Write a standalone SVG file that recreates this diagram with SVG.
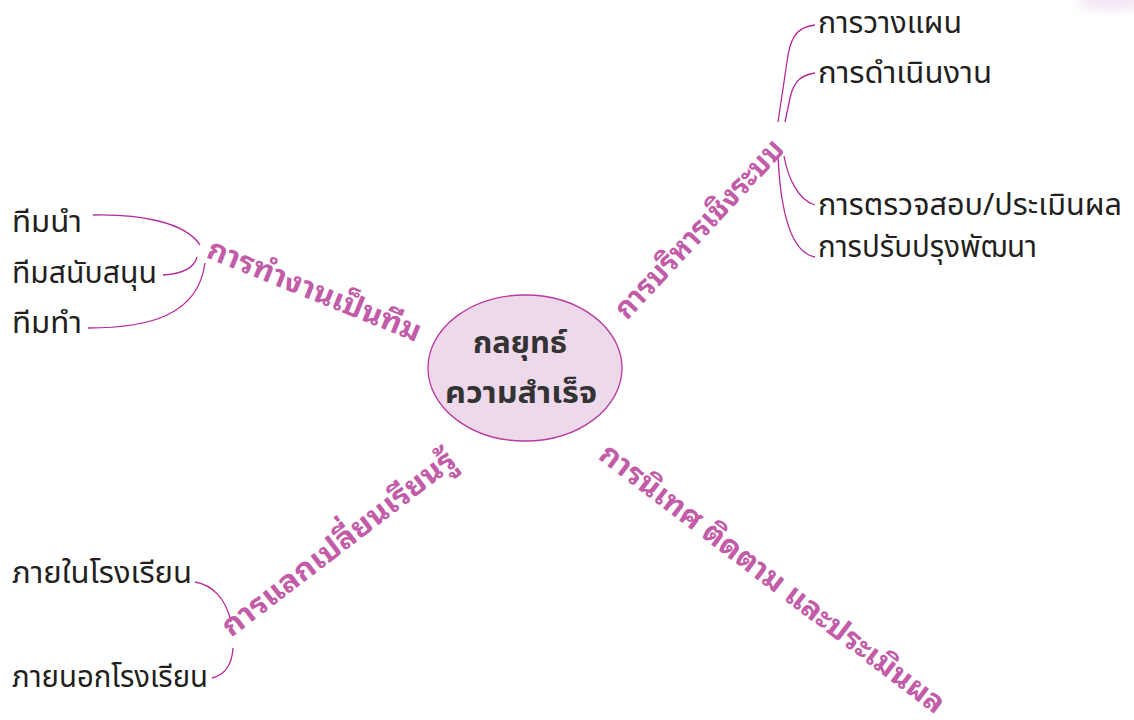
<svg xmlns="http://www.w3.org/2000/svg" width="1134" height="720" viewBox="0 0 1134 720">
<style>
.leaf{font-family:"Noto Sans Thai","Noto Sans Thai UI","Noto Sans","DejaVu Sans",sans-serif;font-size:30px;fill:#231f20}
.core{font-family:"Noto Sans Thai","Noto Sans Thai UI","Noto Sans","DejaVu Sans",sans-serif;font-size:30px;font-weight:bold;fill:#333;text-anchor:middle}
.branch{font-family:"Noto Sans Thai Looped","Noto Sans Thai","Noto Sans","DejaVu Sans",sans-serif;font-size:30px;font-weight:bold;fill:#c25ca9}
.conn path{fill:none;stroke:#b5289a;stroke-width:1.3}
</style>
<defs>
<filter id="blur" x="-50%" y="-100%" width="200%" height="300%"><feGaussianBlur stdDeviation="5"/></filter>
</defs>
<rect width="1134" height="720" fill="#fff"/>
<ellipse cx="1112" cy="2" rx="34" ry="8" fill="#e2c6e2" opacity="0.45" filter="url(#blur)"/>

<g id="connectors" class="conn">
<path d="M815,25 C800,27 792,33 788,55 L778,122"/>
<path d="M815,73 C802,75 794,80 790,98 L785,122"/>
<path d="M784,156 C788,178 798,200 815,205"/>
<path d="M778,156 C780,200 788,252 815,257"/>
<path d="M93,215 C140,214 185,222 200,245"/>
<path d="M163,275 C182,274 194,268 197,257"/>
<path d="M88,328 C150,328 198,315 205,263"/>
<path d="M195,582 C212,585 226,598 231,622"/>
<path d="M212,678 C224,675 232,665 233,648"/>
</g>

<g id="center">
<ellipse cx="525" cy="368" rx="97" ry="73" fill="#eed9ea" stroke="#b83a9e" stroke-width="1.3"/>
<text class="core" x="520" y="353" textLength="94" lengthAdjust="spacingAndGlyphs">กลยุทธ์</text>
<text class="core" x="521" y="403" textLength="152" lengthAdjust="spacingAndGlyphs">ความสำเร็จ</text>
</g>

<g id="branch-teamwork">
<text class="branch" transform="translate(205,257) rotate(22)" textLength="228" lengthAdjust="spacingAndGlyphs">การทำงานเป็นทีม</text>
</g>
<g id="branch-system">
<text class="branch" transform="translate(627,321) rotate(-47)" textLength="233" lengthAdjust="spacingAndGlyphs">การบริหารเชิงระบบ</text>
</g>
<g id="branch-supervise">
<text class="branch" transform="translate(597,458) rotate(37.2)" textLength="425" lengthAdjust="spacingAndGlyphs">การนิเทศ ติดตาม และประเมินผล</text>
</g>
<g id="branch-exchange">
<text class="branch" transform="translate(231,638) rotate(-37.4)" textLength="286" lengthAdjust="spacingAndGlyphs">การแลกเปลี่ยนเรียนรู้</text>
</g>

<g id="leaf-plan"><text class="leaf" x="818" y="33" textLength="144" lengthAdjust="spacingAndGlyphs">การวางแผน</text></g>
<g id="leaf-do"><text class="leaf" x="818" y="83" textLength="174" lengthAdjust="spacingAndGlyphs">การดำเนินงาน</text></g>
<g id="leaf-check"><text class="leaf" x="818" y="215" textLength="304" lengthAdjust="spacingAndGlyphs">การตรวจสอบ/ประเมินผล</text></g>
<g id="leaf-act"><text class="leaf" x="818" y="257" textLength="219" lengthAdjust="spacingAndGlyphs">การปรับปรุงพัฒนา</text></g>
<g id="leaf-lead"><text class="leaf" x="12" y="232" textLength="70" lengthAdjust="spacingAndGlyphs">ทีมนำ</text></g>
<g id="leaf-support"><text class="leaf" x="12" y="283" textLength="145" lengthAdjust="spacingAndGlyphs">ทีมสนับสนุน</text></g>
<g id="leaf-work"><text class="leaf" x="12" y="333" textLength="70" lengthAdjust="spacingAndGlyphs">ทีมทำ</text></g>
<g id="leaf-inside"><text class="leaf" x="12" y="583" textLength="180" lengthAdjust="spacingAndGlyphs">ภายในโรงเรียน</text></g>
<g id="leaf-outside"><text class="leaf" x="12" y="687" textLength="196" lengthAdjust="spacingAndGlyphs">ภายนอกโรงเรียน</text></g>
</svg>
